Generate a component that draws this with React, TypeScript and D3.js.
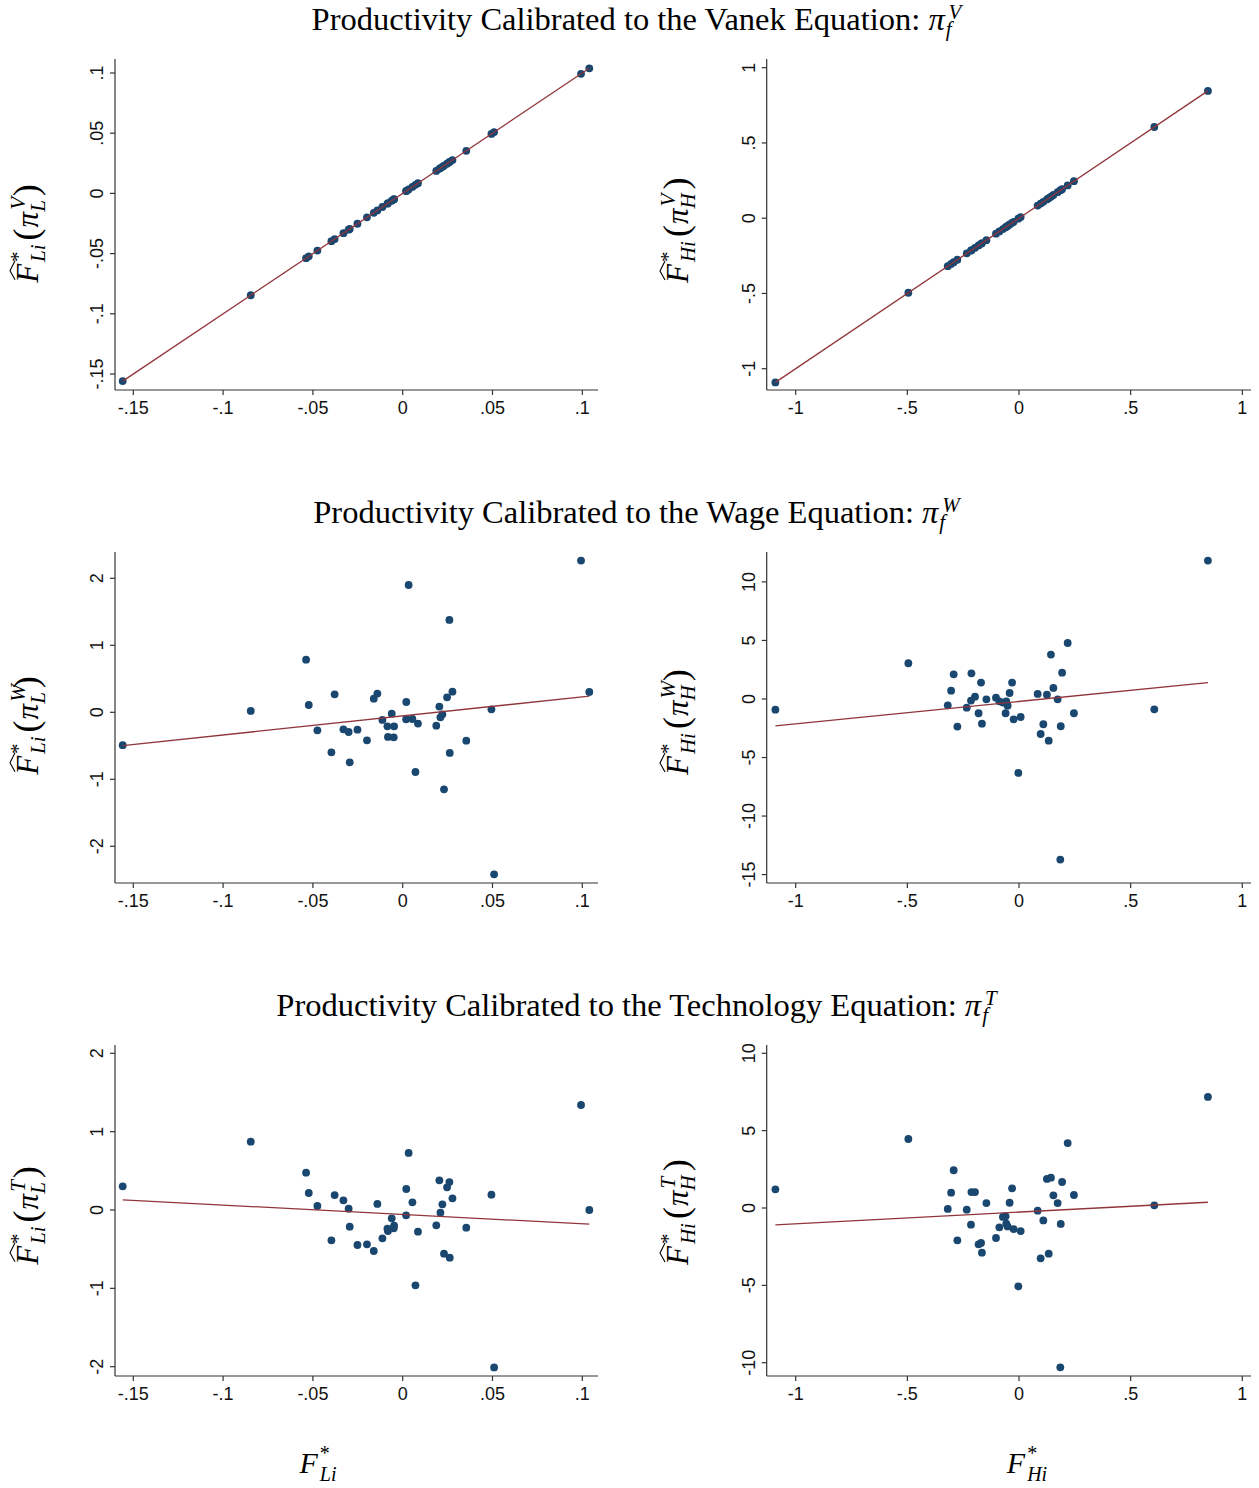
import React, { useLayoutEffect, useRef, useState } from "react";
import * as d3 from "d3";

// ---------- data ----------
// F*_Li : factor content of trade, low-skill labour (x of left panels)
const xL = [-0.1559, -0.0846, -0.0538, -0.0523, -0.0475, -0.0397, -0.0379, -0.033, -0.0301, -0.0295,
  -0.0252, -0.0199, -0.0161, -0.0141, -0.0113, -0.0085, -0.0082, -0.0061, -0.0048, -0.005,
  0.002, 0.0019, 0.0033, 0.0054, 0.0071, 0.0085, 0.0187, 0.0204, 0.021, 0.0221,
  0.023, 0.0247, 0.026, 0.0262, 0.0277, 0.0354, 0.0494, 0.0509, 0.0993, 0.1039];
// predicted F*_Li under Vanek calibration (lies on 45 degree line)
const yLV = [-0.1559, -0.0846, -0.0538, -0.0523, -0.0475, -0.0397, -0.0379, -0.033, -0.0301, -0.0295,
  -0.0252, -0.0199, -0.0161, -0.0141, -0.0113, -0.0085, -0.0082, -0.0061, -0.0048, -0.005,
  0.002, 0.0019, 0.0033, 0.0054, 0.0071, 0.0085, 0.0187, 0.0204, 0.021, 0.0221,
  0.023, 0.0247, 0.026, 0.0262, 0.0277, 0.0354, 0.0494, 0.0509, 0.0993, 0.1039];
// predicted F*_Li under Wage calibration
const yLW = [-0.49, 0.02, 0.786, 0.109, -0.269, -0.597, 0.269, -0.254, -0.294, -0.746,
  -0.259, -0.418, 0.204, 0.279, -0.114, -0.209, -0.368, -0.02, -0.209, -0.373,
  0.154, -0.104, 1.9, -0.1, -0.891, -0.169, -0.199, 0.085, -0.075, -0.03,
  -1.149, 0.224, 1.378, -0.607, 0.308, -0.423, 0.045, -2.418, 2.264, 0.303];
// predicted F*_Li under Technology calibration
const yLT = [0.302, 0.872, 0.477, 0.217, 0.051, -0.387, 0.191, 0.123, 0.017, -0.213,
  -0.447, -0.438, -0.523, 0.077, -0.362, -0.238, -0.268, -0.106, -0.2, -0.234,
  0.268, -0.068, 0.728, 0.098, -0.962, -0.277, -0.196, 0.379, -0.034, 0.072,
  -0.557, 0.289, 0.357, -0.609, 0.149, -0.226, 0.196, -2.009, 1.34, 0.0];

// F*_Hi : factor content of trade, high-skill labour (x of right panels)
const xH = [-1.091, -0.4955, -0.319, -0.304, -0.2925, -0.276, -0.234, -0.215, -0.213, -0.197,
  -0.181, -0.17, -0.166, -0.146, -0.103, -0.088, -0.072, -0.06, -0.057, -0.051,
  -0.042, -0.031, -0.024, -0.003, 0.0075, 0.0836, 0.097, 0.109, 0.125, 0.133,
  0.143, 0.154, 0.173, 0.185, 0.187, 0.193, 0.218, 0.246, 0.606, 0.846];
const yHV = [-1.091, -0.4955, -0.319, -0.304, -0.2925, -0.276, -0.234, -0.215, -0.213, -0.197,
  -0.181, -0.17, -0.166, -0.146, -0.103, -0.088, -0.072, -0.06, -0.057, -0.051,
  -0.042, -0.031, -0.024, -0.003, 0.0075, 0.0836, 0.097, 0.109, 0.125, 0.133,
  0.143, 0.154, 0.173, 0.185, 0.187, 0.193, 0.218, 0.246, 0.606, 0.846];
const yHW = [-0.91, 3.05, -0.54, 0.71, 2.11, -2.36, -0.74, -0.14, 2.19, 0.2,
  -1.22, 1.4, -2.11, -0.03, 0.11, -0.2, -0.31, -1.22, -0.2, -0.57,
  0.51, 1.4, -1.74, -6.32, -1.54, 0.43, -2.99, -2.16, 0.37, -3.56,
  3.79, 0.94, -0.03, -13.72, -2.33, 2.25, 4.78, -1.22, -0.88, 11.82];
const yHT = [1.21, 4.46, -0.06, 0.99, 2.44, -2.09, -0.11, -1.08, 1.03, 1.03,
  -2.35, -2.26, -2.89, 0.32, -1.94, -1.25, -0.58, -0.54, -1.01, -1.19,
  0.34, 1.27, -1.36, -5.06, -1.49, -0.17, -3.25, -0.8, 1.88, -2.95,
  1.96, 0.82, 0.32, -10.3, -1.03, 1.68, 4.2, 0.84, 0.17, 7.18];

// tick values
const xTicksL = [-0.15, -0.1, -0.05, 0, 0.05, 0.1];
const xTicksH = [-1, -0.5, 0, 0.5, 1];
const yTicksLV = [-0.15, -0.1, -0.05, 0, 0.05, 0.1];
const yTicksHV = [-1, -0.5, 0, 0.5, 1];
const yTicksLW = [-2, -1, 0, 1, 2];
const yTicksHW = [-15, -10, -5, 0, 5, 10];
const yTicksLT = [-2, -1, 0, 1, 2];
const yTicksHT = [-10, -5, 0, 5, 10];

// titles
const rowTitles = ["Vanek", "Wage", "Technology"];
const rowSups = ["V", "W", "T"];

// ---------- styling / layout ----------
const NAVY = "#1a476f";
const MAROON = "#90353b";
const AXIS = "#333333";
const SANS = "'Liberation Sans', Arial, Helvetica, sans-serif";
const SERIF = "'Liberation Serif', 'Times New Roman', serif";

const fmt = (v: number) => {
  const s = String(Math.round(v * 1000) / 1000);
  return s.replace("0.", ".");
};

function ols(xs: number[], ys: number[]) {
  const mx = d3.mean(xs) as number;
  const my = d3.mean(ys) as number;
  let sxy = 0, sxx = 0;
  xs.forEach((x, i) => {
    sxy += (x - mx) * (ys[i] - my);
    sxx += (x - mx) * (x - mx);
  });
  const b = sxy / sxx;
  return [my - b * mx, b];
}

type PanelSpec = {
  xs: number[]; ys: number[];
  xd: [number, number]; xr: [number, number];
  yd: [number, number]; yr: [number, number];
  xt: number[]; yt: number[];
  ax0: number; ax1: number; ay0: number; ay1: number;
};

function Panel({ p }: { p: PanelSpec }) {
  const x = d3.scaleLinear().domain(p.xd).range(p.xr);
  const y = d3.scaleLinear().domain(p.yd).range(p.yr);
  const [a, b] = ols(p.xs, p.ys);
  const xmin = d3.min(p.xs) as number;
  const xmax = d3.max(p.xs) as number;
  const fit = d3.line()([
    [x(xmin), y(a + b * xmin)],
    [x(xmax), y(a + b * xmax)],
  ]) as string;
  return (
    <g>
      <line x1={p.ax0} x2={p.ax1} y1={p.ay1} y2={p.ay1} stroke={AXIS} strokeWidth={1.2} />
      <line x1={p.ax0} x2={p.ax0} y1={p.ay0} y2={p.ay1} stroke={AXIS} strokeWidth={1.2} />
      {p.xt.map((t) => (
        <g key={"x" + t}>
          <line x1={x(t)} x2={x(t)} y1={p.ay1} y2={p.ay1 + 5} stroke={AXIS} strokeWidth={1.2} />
          <text x={x(t)} y={p.ay1 + 24} textAnchor="middle" fontFamily={SANS} fontSize={18} fill="#111">
            {fmt(t)}
          </text>
        </g>
      ))}
      {p.yt.map((t) => (
        <g key={"y" + t}>
          <line x1={p.ax0 - 5} x2={p.ax0} y1={y(t)} y2={y(t)} stroke={AXIS} strokeWidth={1.2} />
          <text
            transform={`translate(${p.ax0 - 12},${y(t)}) rotate(-90)`}
            textAnchor="middle" fontFamily={SANS} fontSize={18} fill="#111">
            {fmt(t)}
          </text>
        </g>
      ))}
      {p.xs.map((v, i) => (
        <circle key={i} cx={x(v)} cy={y(p.ys[i])} r={3.9} fill={NAVY} />
      ))}
      <path d={fit} fill="none" stroke={MAROON} strokeWidth={1.3} />
    </g>
  );
}

const supW: Record<string, number> = { V: 0.611, W: 0.833, T: 0.556, L: 0.556, H: 0.722, "*": 0.5 };

function MathY({ cx, cy, sub, sup, piSub }: { cx: number; cy: number; sub: string; sup: string; piSub: string }) {
  const ref = useRef<SVGTextElement>(null);
  const [off, setOff] = useState(-52);
  useLayoutEffect(() => {
    if (ref.current) {
      const bb = ref.current.getBBox();
      const cur = bb.x + bb.width / 2;
      if (Math.abs(cur) > 0.5) setOff((o) => o - cur);
    }
  }, [off]);
  const fs = 31, ss = 21;
  return (
    <g transform={`translate(${cx},${cy}) rotate(-90)`}>
      <text ref={ref} x={off} y={0} fontFamily={SERIF} fontSize={fs} fill="#000">
        <tspan fontStyle="italic">F</tspan>
        <tspan fontSize={ss} dx={2} dy={-13}>*</tspan>
        <tspan fontSize={ss} fontStyle="italic" dx={-ss * 0.5} dy={20}>{sub}</tspan>
        <tspan fontSize={36} dx={4} dy={-7}>(</tspan>
        <tspan fontStyle="italic" dx={1}>π</tspan>
        <tspan fontSize={ss} fontStyle="italic" dx={2} dy={-13}>{sup}</tspan>
        <tspan fontSize={ss} fontStyle="italic" dx={-ss * supW[sup] - 2} dy={20}>{piSub}</tspan>
        <tspan fontSize={36} dx={4} dy={-7}>)</tspan>
      </text>
      <path d={`M${off + 3},-23 L${off + 12},-28 L${off + 22},-23`} fill="none" stroke="#000" strokeWidth={1.1} />
    </g>
  );
}

function MathX({ cx, cy, sub }: { cx: number; cy: number; sub: string }) {
  return (
    <text x={cx} y={cy} textAnchor="middle" fontFamily={SERIF} fontSize={30} fill="#000">
      <tspan fontStyle="italic">F</tspan>
      <tspan fontSize={20} dx={2} dy={-13}>*</tspan>
      <tspan fontSize={20} fontStyle="italic" dx={-10} dy={21}>{sub}</tspan>
    </text>
  );
}

export default function App() {
  const L = { xd: [-0.15, 0.1] as [number, number], xr: [133.3, 582.3] as [number, number], ax0: 115, ax1: 598, xt: xTicksL };
  const R = { xd: [-1, 1] as [number, number], xr: [795.7, 1242.3] as [number, number], ax0: 766.7, ax1: 1251, xt: xTicksH };
  const rows = [
    { ay0: 59, ay1: 390, base: 30 },
    { ay0: 552, ay1: 883, base: 523 },
    { ay0: 1045, ay1: 1376, base: 1016 },
  ];
  const panels: PanelSpec[] = [
    { ...L, xs: xL, ys: yLV, yd: [-0.15, 0.1], yr: [374, 73], yt: yTicksLV, ay0: rows[0].ay0, ay1: rows[0].ay1 },
    { ...R, xs: xH, ys: yHV, yd: [-1, 1], yr: [368.7, 67.7], yt: yTicksHV, ay0: rows[0].ay0, ay1: rows[0].ay1 },
    { ...L, xs: xL, ys: yLW, yd: [-2, 2], yr: [846.3, 578.3], yt: yTicksLW, ay0: rows[1].ay0, ay1: rows[1].ay1 },
    { ...R, xs: xH, ys: yHW, yd: [-15, 10], yr: [874.6, 581.9], yt: yTicksHW, ay0: rows[1].ay0, ay1: rows[1].ay1 },
    { ...L, xs: xL, ys: yLT, yd: [-2, 2], yr: [1366.7, 1053.3], yt: yTicksLT, ay0: rows[2].ay0, ay1: rows[2].ay1 },
    { ...R, xs: xH, ys: yHT, yd: [-10, 10], yr: [1362.7, 1053.3], yt: yTicksHT, ay0: rows[2].ay0, ay1: rows[2].ay1 },
  ];
  const labelCy = [234, 726, 1216];
  return (
    <svg width={1259} height={1488} style={{ position: "absolute", left: 0, top: 0, background: "#fff" }}>
      <rect x={0} y={0} width={1259} height={1488} fill="#fff" />
      {rows.map((r, i) => (
        <text key={"t" + i} x={636.5} y={r.base} textAnchor="middle" fontFamily={SERIF} fontSize={32.5} fill="#000">
          {`Productivity Calibrated to the ${rowTitles[i]} Equation: `}
          <tspan fontStyle="italic">π</tspan>
          <tspan fontSize={21} fontStyle="italic" dx={1} dy={6}>f</tspan>
          <tspan fontSize={21} fontStyle="italic" dx={-3} dy={-17}>{rowSups[i]}</tspan>
        </text>
      ))}
      {panels.map((p, i) => (
        <Panel key={i} p={p} />
      ))}
      {rows.map((r, i) => (
        <g key={"yl" + i}>
          <MathY cx={38} cy={labelCy[i]} sub="Li" sup={rowSups[i]} piSub="L" />
          <MathY cx={688} cy={labelCy[i] - 3} sub="Hi" sup={rowSups[i]} piSub="H" />
        </g>
      ))}
      <MathX cx={318} cy={1473} sub="Li" />
      <MathX cx={1027} cy={1473} sub="Hi" />
    </svg>
  );
}
